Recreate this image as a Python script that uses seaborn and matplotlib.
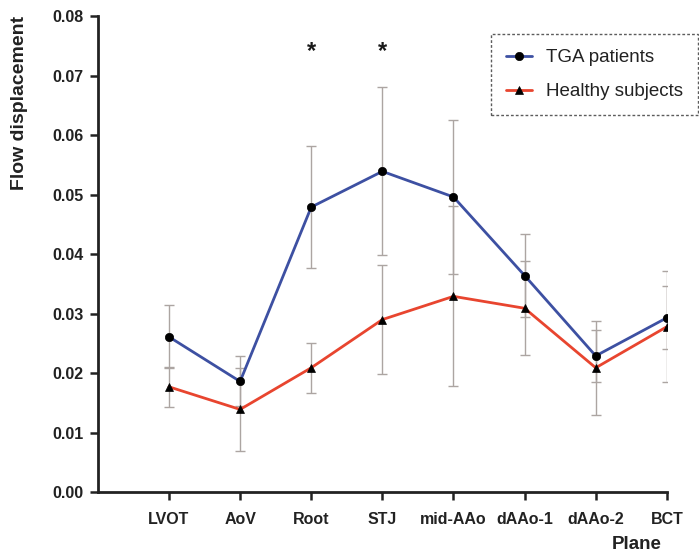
import numpy as np
import pandas as pd
import matplotlib
matplotlib.use("Agg")
import matplotlib.pyplot as plt
import seaborn as sns

planes = ["LVOT", "AoV", "Root", "STJ", "mid-AAo", "dAAo-1", "dAAo-2", "BCT"]
tga_mean = [0.0261, 0.0186, 0.0479, 0.0539, 0.0496, 0.0364, 0.0229, 0.0293]
tga_err = [0.0053, 0.0042, 0.0103, 0.0141, 0.0130, 0.0070, 0.0044, 0.0053]
healthy_mean = [0.0177, 0.0139, 0.0209, 0.0290, 0.0329, 0.0309, 0.0209, 0.0278]
healthy_err = [0.0034, 0.0069, 0.0042, 0.0091, 0.0151, 0.0079, 0.0079, 0.0093]
group_names = ["TGA patients", "Healthy subjects"]
star_planes = ["Root", "STJ"]
star_y = 0.0741

sns.set_style("ticks")
plt.rcParams["font.family"] = ["Liberation Sans", "DejaVu Sans"]

df = pd.DataFrame({
    "Plane": planes * 2,
    "value": tga_mean + healthy_mean,
    "group": [group_names[0]] * len(planes) + [group_names[1]] * len(planes),
})

blue = "#3d50a2"
red = "#e8452f"
grey = "#aca5a2"

fig = plt.figure(figsize=(6.99, 5.53), dpi=100)
ax = fig.add_axes([0.140, 0.110, 0.814, 0.861])

sns.lineplot(data=df, x="Plane", y="value", hue="group", style="group",
             palette={group_names[0]: blue, group_names[1]: red},
             markers={group_names[0]: "o", group_names[1]: "^"},
             dashes=False, linewidth=2.0, markersize=6, legend=False,
             sort=False, ax=ax, zorder=3)

main_lines = list(ax.get_lines())
for ln in main_lines:
    ln.set_markerfacecolor("black")
    ln.set_markeredgecolor("black")
    ln.set_markeredgewidth(0.5)

xpos = np.arange(len(planes))
ax.errorbar(xpos, tga_mean, yerr=tga_err, fmt="none", ecolor=grey,
            elinewidth=1.0, capsize=3.5, capthick=1.0, zorder=1)
ax.errorbar(xpos, healthy_mean, yerr=healthy_err, fmt="none", ecolor=grey,
            elinewidth=1.0, capsize=3.5, capthick=1.0, zorder=1)

for p in star_planes:
    ax.text(planes.index(p), star_y, "*", ha="center", va="center",
            fontsize=17, fontweight="bold", color="#1a1a1a")

ax.set_xlim(-1, len(planes) - 1)
ax.set_ylim(0, 0.08)
ax.set_yticks(np.arange(0, 0.0801, 0.01))
ax.set_yticklabels([f"{v:.2f}" for v in np.arange(0, 0.0801, 0.01)])
ax.set_xticks(xpos)
ax.set_xticklabels(planes)

for lab in ax.get_xticklabels() + ax.get_yticklabels():
    lab.set_fontweight("bold")
    lab.set_fontsize(11.5)
    lab.set_color("#222222")

ax.tick_params(axis="both", direction="out", length=6, width=1.8, color="#222222", pad=4)
ax.tick_params(axis="x", pad=8)

for s in ["top", "right"]:
    ax.spines[s].set_visible(False)
for s in ["left", "bottom"]:
    ax.spines[s].set_linewidth(2.0)
    ax.spines[s].set_color("#222222")

ax.set_ylabel("Flow displacement", fontsize=14, fontweight="bold", color="#222222")
ax.yaxis.set_label_coords(-0.123, 0.817)
ax.set_xlabel("Plane", fontsize=13.5, fontweight="bold", color="#222222")
ax.xaxis.set_label_coords(0.947, -0.092)

leg = fig.legend(handles=main_lines, labels=group_names, loc="upper right",
                 bbox_to_anchor=(698 / 699, 1 - 34 / 553),
                 bbox_transform=fig.transFigure, fontsize=13.5,
                 frameon=True, fancybox=False, handlelength=1.4,
                 handletextpad=0.75, labelspacing=0.9, borderpad=0.8,
                 borderaxespad=0)
fr = leg.get_frame()
fr.set_linestyle((0, (2, 1.5)))
fr.set_edgecolor("#333333")
fr.set_linewidth(1.0)
for t in leg.get_texts():
    t.set_color("#222222")

fig.savefig("out.png", dpi=100)
